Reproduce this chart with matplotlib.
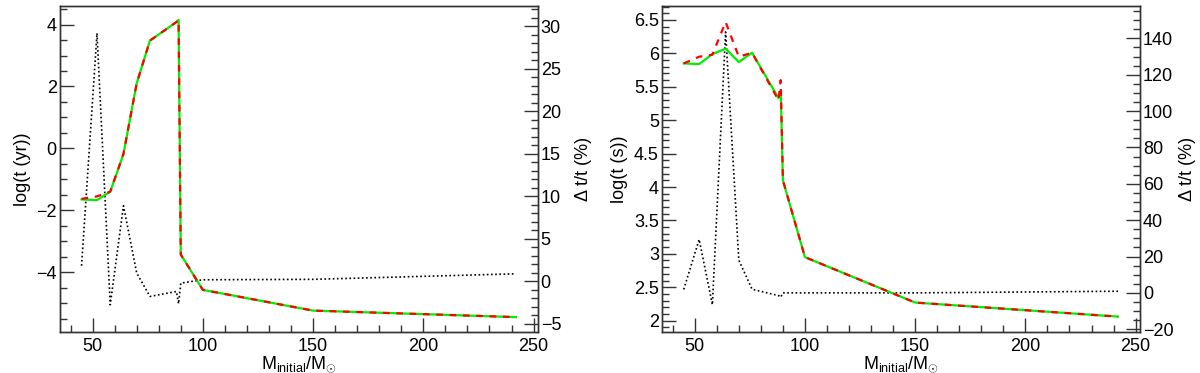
import matplotlib
matplotlib.use("Agg")
import matplotlib.pyplot as plt
from matplotlib.ticker import MultipleLocator

plt.rcParams['font.family'] = ['Liberation Sans', 'DejaVu Sans']
plt.rcParams['mathtext.fontset'] = 'custom'
plt.rcParams['mathtext.rm'] = 'Liberation Sans'
plt.rcParams['mathtext.it'] = 'Liberation Sans'

# initial masses
mass = [45, 52, 58, 64, 70, 76, 88, 89, 90, 100, 150, 242]

# left panel: log(t / yr)
yr_green = [-1.65, -1.67, -1.40, -0.18, 2.10, 3.48, 4.08, 4.15, -3.43, -4.57, -5.24, -5.45]
yr_red = [-1.63, -1.55, -1.40, -0.18, 2.10, 3.48, 4.08, 4.15, -3.43, -4.57, -5.24, -5.45]
yr_diff = [1.85, 29.2, -2.74, 8.9, 1.0, -1.76, -1.18, -2.62, -0.2, 0.2, 0.25, 0.9]

# right panel: log(t / s)
s_green = [5.85, 5.84, 5.99, 6.07, 5.87, 6.01, 5.33, 5.45, 4.10, 2.95, 2.27, 2.06]
s_red = [5.85, 5.95, 5.98, 6.47, 5.95, 6.01, 5.30, 5.60, 4.10, 2.95, 2.27, 2.06]
s_diff = [1.9, 29.4, -6.5, 143.5, 18.0, 2.0, -1.5, -2.4, 0.0, 0.0, 0.0, 0.9]

fs = 13
frame = '#333333'


def style(ax, side):
    for sp in ax.spines.values():
        sp.set_color(frame)
        sp.set_linewidth(1.0)
    ax.tick_params(axis='y', which='major', direction='in', length=10, width=1,
                   color=frame, labelsize=fs, pad=2,
                   left=(side == 'left'), right=(side == 'right'),
                   labelleft=(side == 'left'), labelright=(side == 'right'))
    ax.tick_params(axis='y', which='minor', direction='in', length=5, width=1,
                   color=frame,
                   left=(side == 'left'), right=(side == 'right'))


def panel(ax, green, red, diff, ylab, ylim, ymaj, ymin, rlim, rmaj, rmin, rpad):
    ax.plot(mass, green, color='#00ee00', lw=1.6, zorder=3)
    ax.plot(mass, red, color='#ff0000', lw=1.6, dashes=(3, 3), zorder=4)
    ax.set_xlim(35, 252)
    ax.set_ylim(*ylim)
    ax.xaxis.set_major_locator(MultipleLocator(50))
    ax.xaxis.set_minor_locator(MultipleLocator(10))
    ax.yaxis.set_major_locator(MultipleLocator(ymaj))
    ax.yaxis.set_minor_locator(MultipleLocator(ymin))
    ax.tick_params(axis='x', which='major', direction='in', length=10, width=1,
                   color=frame, labelsize=fs, pad=4, top=False)
    ax.tick_params(axis='x', which='minor', direction='in', length=5, width=1,
                   color=frame, top=False)
    style(ax, 'left')
    ax.set_ylabel(ylab, fontsize=fs, labelpad=4)
    ax.set_xlabel(r'M$_{\mathrm{initial}}$/M$_{\odot}$', fontsize=fs, labelpad=0)

    tw = ax.twinx()
    tw.plot(mass, diff, color='black', lw=1.2, dashes=(1, 1.5), zorder=2)
    tw.set_ylim(*rlim)
    tw.yaxis.set_major_locator(MultipleLocator(rmaj))
    tw.yaxis.set_minor_locator(MultipleLocator(rmin))
    style(tw, 'right')
    tw.set_ylabel('\u0394 t/t (%)', fontsize=fs, labelpad=rpad)
    ax.set_zorder(tw.get_zorder() + 1)
    ax.patch.set_visible(False)


fig = plt.figure(figsize=(12, 3.73), dpi=100)
ax1 = fig.add_axes([0.0496, 0.110, 0.3987, 0.874])
ax2 = fig.add_axes([0.5514, 0.110, 0.3986, 0.874])

panel(ax1, yr_green, yr_red, yr_diff, 'log(t (yr))', (-5.93, 4.6), 2, 0.5,
      (-5.94, 32.4), 5, 1, 10)
panel(ax2, s_green, s_red, s_diff, 'log(t (s))', (1.83, 6.71), 0.5, 0.1,
      (-21.5, 157.8), 20, 5, 4)

ax2.yaxis.set_major_formatter(plt.FuncFormatter(lambda v, p: f'{v:g}'))

fig.savefig('out.png', dpi=100)
